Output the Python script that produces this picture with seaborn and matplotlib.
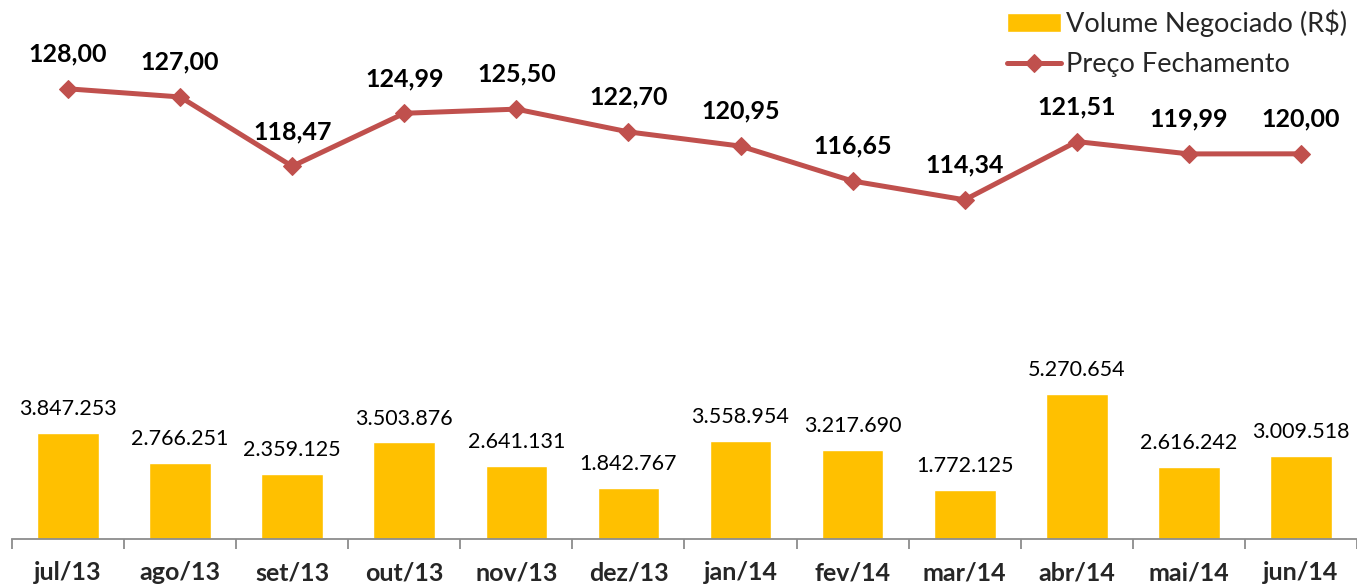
import numpy as np
import pandas as pd
import matplotlib.pyplot as plt
import seaborn as sns

# dados
meses = ['jul/13', 'ago/13', 'set/13', 'out/13', 'nov/13', 'dez/13',
         'jan/14', 'fev/14', 'mar/14', 'abr/14', 'mai/14', 'jun/14']
volume = [3847253, 2766251, 2359125, 3503876, 2641131, 1842767,
          3558954, 3217690, 1772125, 5270654, 2616242, 3009518]
preco = [128.00, 127.00, 118.47, 124.99, 125.50, 122.70,
         120.95, 116.65, 114.34, 121.51, 119.99, 120.00]

df = pd.DataFrame({'Mes': meses, 'Volume': volume, 'Preco': preco})

sns.set_theme(style="white")
plt.rcParams['font.family'] = ['Lato', 'DejaVu Sans']

fig = plt.figure(figsize=(13.57, 5.87), dpi=100)
ax = fig.add_axes([12 / 1357, 1 - 539 / 587, 1345 / 1357, 529 / 587])

sns.barplot(x='Mes', y='Volume', data=df, color='#FFC000', width=0.55,
            saturation=1, ax=ax, label='Volume Negociado (R$)')
ax.set_xlim(-0.5, 11.5)
ax.set_ylim(0, 19.2e6)

def fmt_br(v):
    return f'{v:,.0f}'.replace(',', '.')

for i, v in enumerate(volume):
    ax.annotate(fmt_br(v), (i, v), xytext=(0, 10), textcoords='offset points',
                ha='center', va='bottom', fontsize=15.5, color='black')

ax2 = ax.twinx()
sns.lineplot(x=np.arange(len(meses)), y=preco, ax=ax2, color='#C0504D',
             linewidth=3.6, marker='D', markersize=9.5, markeredgecolor='#C0504D',
             label='Preço Fechamento')
ax2.set_ylim(72.6, 137.7)
for i, v in enumerate(preco):
    ax2.annotate(f'{v:.2f}'.replace('.', ','), (i, v), xytext=(0, 25),
                 textcoords='offset points', ha='center', va='center',
                 fontsize=18, fontweight='bold', color='black')

# eixos
for a in (ax, ax2):
    for s in ['top', 'left', 'right']:
        a.spines[s].set_visible(False)
    a.set_yticks([])
    a.set_ylabel('')
ax2.spines['bottom'].set_visible(False)
ax.spines['bottom'].set_color('#8C8C8C')
ax.spines['bottom'].set_linewidth(1.3)
ax.set_xlabel('')
ax.set_xticks(range(len(meses)))
ax.set_xticklabels(meses, fontsize=18, fontweight='bold')
ax.tick_params(axis='x', which='major', length=0, pad=16)
ax.set_xticks(np.arange(-0.5, len(meses), 1), minor=True)
ax.tick_params(axis='x', which='minor', length=7, width=1.3, color='#8C8C8C',
               direction='out', bottom=True)

# legenda
h1, l1 = ax.get_legend_handles_labels()
h2, l2 = ax2.get_legend_handles_labels()
if ax2.get_legend():
    ax2.get_legend().remove()
if ax.get_legend():
    ax.get_legend().remove()
fig.legend(h1 + h2, l1 + l2, loc='upper right', bbox_to_anchor=(1.011, 1.025),
           frameon=False, fontsize=19.5, handlelength=2.0, handletextpad=0.2,
           labelspacing=0.55)

plt.savefig('out.png', dpi=100)
plt.close()
